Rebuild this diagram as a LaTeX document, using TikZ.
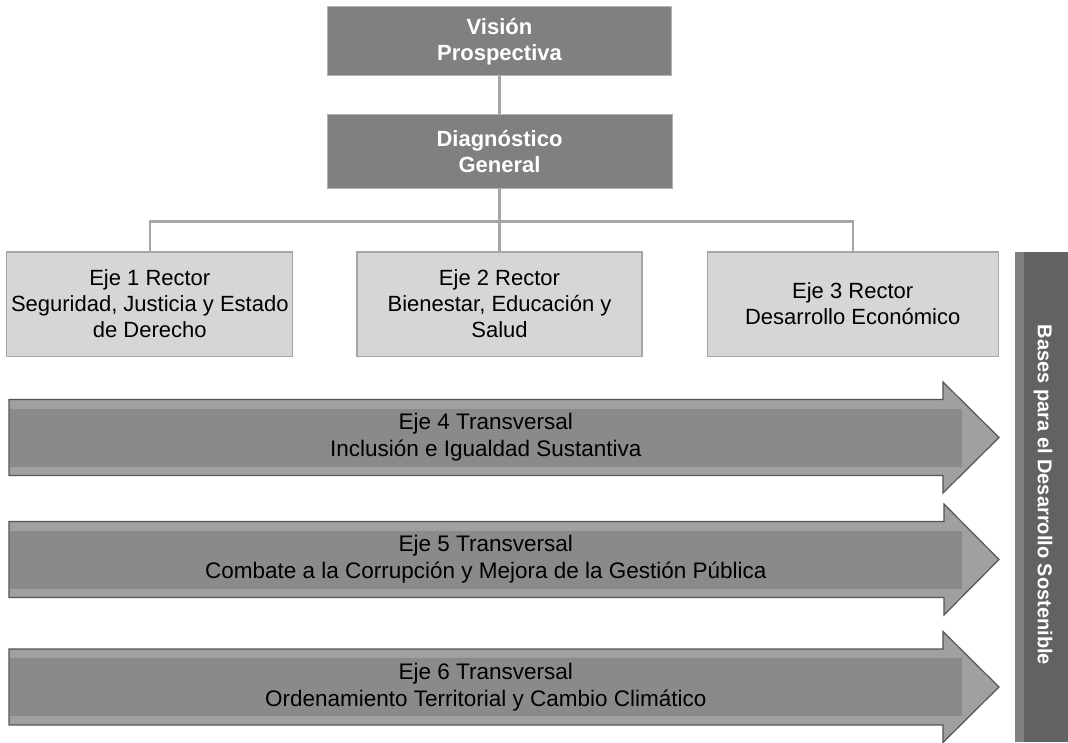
\documentclass[tikz,border=0pt]{standalone}
\usepackage{fontspec}
\setmainfont{Liberation Sans}
\usetikzlibrary{positioning}

\definecolor{darkbox}{HTML}{808080}
\definecolor{lightbox}{HTML}{D6D6D6}
\definecolor{boxline}{HTML}{A6A6A6}
\definecolor{arrowfill}{HTML}{A0A0A0}
\definecolor{arrowin}{HTML}{8A8A8A}
\definecolor{arrowline}{HTML}{555555}
\definecolor{barfill}{HTML}{626262}
\definecolor{barstrip}{HTML}{808080}

\tikzset{
  topbox/.style={rectangle, fill=darkbox, draw=gray!60, line width=1pt, text=white,
    font=\fontsize{22}{26}\selectfont\bfseries, align=center, inner sep=0pt},
  ejebox/.style={rectangle, fill=lightbox, draw=boxline, line width=1.2pt,
    font=\fontsize{22}{26}\selectfont, align=center, inner sep=0pt, minimum height=104pt},
  link/.style={draw=boxline, line width=2.2pt},
  transbar/.style={rectangle, fill=arrowin, font=\fontsize{22.5}{27}\selectfont, align=center,
    inner sep=0pt, minimum width=952pt, minimum height=58pt},
  transarrow/.style={fill=arrowfill, draw=arrowline, line width=1.2pt, line join=miter},
  basestext/.style={text=white, font=\fontsize{20}{24}\selectfont\bfseries, inner sep=0pt},
}

\begin{document}
\begin{tikzpicture}[x=1pt, y=-1pt]
			\useasboundingbox (0,0) rectangle (1068,743);

			% Draw the top boxes
			\node[topbox, minimum width=344pt, minimum height=69pt] (vision) at (499.5,41.5) {Visión\\Prospectiva};
			\node[topbox, minimum width=345pt, minimum height=74pt, below=38pt of vision] (diag) {Diagnóstico\\General};

			% Draw the three rector boxes
			\node[ejebox, minimum width=285pt, below=62pt of diag] (eje2) {Eje 2 Rector\\Bienestar, Educación y\\Salud};
			\node[ejebox, minimum width=286pt, left=63pt of eje2] (eje1) {Eje 1 Rector\\Seguridad, Justicia y Estado\\de Derecho};
			\node[ejebox, minimum width=291pt, right=64pt of eje2] (eje3) {Eje 3 Rector\\Desarrollo Económico};

			% Draw the lines between the boxes
			\coordinate (split) at ([yshift=-32pt]diag.south);
			\draw[link] (vision) -- (diag);
			\draw[link] (diag) -- (eje2);
			\draw[link] (eje1.north) |- (split) -| (eje3.north);

			% Draw the transversal arrows
			\draw[transarrow] (9,399.5) -- (943,399.5) -- (943,382) -- (999,437.5) -- (943,493) -- (943,475.5) -- (9,475.5) -- cycle;
			\node[transbar] (eje4) at (485.8,437.5) {Eje 4 Transversal\\Inclusión e Igualdad Sustantiva};

			\draw[transarrow] (9,521.5) -- (944,521.5) -- (944,504) -- (999,559.5) -- (944,615) -- (944,597.5) -- (9,597.5) -- cycle;
			\node[transbar] (eje5) at (485.8,559.5) {Eje 5 Transversal\\Combate a la Corrupción y Mejora de la Gestión Pública};

			\draw[transarrow] (9,649) -- (943,649) -- (943,631.5) -- (999,687) -- (943,742.5) -- (943,725) -- (9,725) -- cycle;
			\node[transbar] (eje6) at (485.8,687) {Eje 6 Transversal\\Ordenamiento Territorial y Cambio Climático};

			% Draw the side bar
			\fill[barfill] (1015,252) rectangle (1068,742);
			\fill[barstrip] (1015,252) rectangle (1024,742);
			\node[basestext, rotate=-90] (bases) at (1043,495) {Bases para el Desarrollo Sostenible};

		\end{tikzpicture}
\end{document}
